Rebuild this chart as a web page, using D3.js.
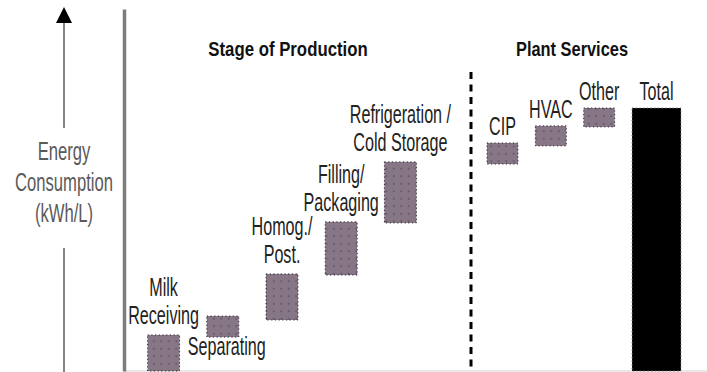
<!DOCTYPE html>
<html>
<head>
<meta charset="utf-8">
<script src="https://cdn.jsdelivr.net/npm/d3@7"></script>
<style>
  body { margin: 0; background: #fff; }
  text { font-family: "Liberation Sans", Arial, sans-serif; }
</style>
</head>
<body>
<div id="chart"></div>
<script>
// waterfall steps, relative energy units (total = 100)
const stages = ["Milk Receiving", "Separating", "Homog./Post.", "Filling/Packaging", "Refrigeration/Cold Storage"];
const stageLabels = [["Milk", "Receiving"], ["Separating"], ["Homog./", "Post."], ["Filling/", "Packaging"], ["Refrigeration /", "Cold Storage"]];
const stageLow = [0, 12.9, 19.4, 36.5, 56.3];
const stageHigh = [13.7, 20.9, 36.9, 56.7, 79.5];

const services = ["CIP", "HVAC", "Other", "Total"];
const serviceLabels = [["CIP"], ["HVAC"], ["Other"], ["Total"]];
const serviceLow = [78.7, 85.6, 92.8, 0];
const serviceHigh = [86.7, 93.2, 100, 100];

const groupTitles = ["Stage of Production", "Plant Services"];
const axisLabel = ["Energy", "Consumption", "(kWh/L)"];

const width = 707, height = 372;

const svg = d3.select("#chart")
  .append("svg")
    .attr("width", width)
    .attr("height", height);

const defs = svg.append("defs");
const pat = defs.append("pattern")
    .attr("id", "dots")
    .attr("width", 7.5)
    .attr("height", 7.5)
    .attr("patternUnits", "userSpaceOnUse");
pat.append("rect").attr("width", 7.5).attr("height", 7.5).attr("fill", "#867686");
pat.append("circle").attr("cx", 3.75).attr("cy", 3.75).attr("r", 0.9).attr("fill", "#5e505e");

// scales
const y = d3.scaleLinear()
  .domain([0, 100])
  .range([371, 108]);

const xStage = d3.scaleBand()
  .domain(stages)
  .range([134, 430])
  .paddingInner(0.46)
  .paddingOuter(0.23);

const xServ = d3.scaleBand()
  .domain(services)
  .range([472.5, 677.5])
  .paddingInner(0.36)
  .paddingOuter(0.3);

// condensed multi-line text helper
function label(lines, cx, baseline, opts) {
  const o = Object.assign({size: 26, sx: 0.62, lh: 28, fill: "#222", weight: "normal", anchor: "last"}, opts);
  const first = o.anchor === "last" ? baseline - (lines.length - 1) * o.lh : baseline;
  const g = svg.append("g")
      .attr("transform", `translate(${cx},${first}) scale(${o.sx},1)`);
  const t = g.append("text")
      .attr("text-anchor", "middle")
      .attr("font-size", o.size)
      .attr("font-weight", o.weight)
      .attr("fill", o.fill);
  lines.forEach((s, i) => {
    t.append("tspan").attr("x", 0).attr("dy", i === 0 ? 0 : o.lh).text(s);
  });
}

// baseline
svg.append("line")
  .attr("x1", 124).attr("x2", width)
  .attr("y1", y(0)).attr("y2", y(0))
  .attr("stroke", "#d4d4d4")
  .attr("stroke-width", 1);

// y axis line (no ticks)
const yAxisScale = y.copy().domain([0, y.invert(9)]).range([y(0), 9]);
const yAxis = svg.append("g")
  .attr("transform", "translate(124,0)")
  .call(d3.axisLeft(yAxisScale).ticks(0).tickSizeOuter(0));
yAxis.select(".domain")
  .attr("stroke", "#7d7d7d")
  .attr("stroke-width", 3.5);

// arrow and axis title
const ax = 64;
svg.append("line").attr("x1", ax).attr("x2", ax).attr("y1", 22).attr("y2", 128)
  .attr("stroke", "#666").attr("stroke-width", 1.6);
svg.append("line").attr("x1", ax).attr("x2", ax).attr("y1", 248).attr("y2", height)
  .attr("stroke", "#666").attr("stroke-width", 1.6);
svg.append("path")
  .attr("d", `M${ax},7 L${ax + 8},23 L${ax - 8},23 Z`)
  .attr("fill", "#000");
label(axisLabel, ax, 160, {anchor: "first", lh: 31, fill: "#5a5a5a", sx: 0.64});

// divider between the two groups
const divX = xServ.range()[0] - 1.5;
svg.append("line")
  .attr("x1", divX).attr("x2", divX)
  .attr("y1", 72).attr("y2", y(0))
  .attr("stroke", "#000")
  .attr("stroke-width", 3)
  .attr("stroke-dasharray", "7,5.5");

// group titles
label([groupTitles[0]], 288, 56, {size: 20, sx: 0.84, weight: "bold", fill: "#111"});
label([groupTitles[1]], 572, 56, {size: 20, sx: 0.82, weight: "bold", fill: "#111"});

// stage bars
svg.append("g").selectAll("rect")
  .data(stages)
  .join("rect")
    .attr("x", d => xStage(d))
    .attr("y", (d, i) => y(stageHigh[i]))
    .attr("width", xStage.bandwidth())
    .attr("height", (d, i) => y(stageLow[i]) - y(stageHigh[i]))
    .attr("fill", "url(#dots)")
    .attr("stroke", "#2e262e")
    .attr("stroke-width", 1)
    .attr("stroke-dasharray", "1.2,2.5");

stages.forEach((d, i) => {
  const cx = xStage(d) + xStage.bandwidth() / 2;
  if (d === "Separating") {
    label(stageLabels[i], cx + 4, y(stageLow[i]) + 18, {});
  } else {
    label(stageLabels[i], cx, y(stageHigh[i]) - 11, {});
  }
});

// plant services bars (Total drawn wider and solid)
const totalW = xServ.bandwidth() * 1.58;
svg.append("g").selectAll("rect")
  .data(services)
  .join("rect")
    .attr("x", d => xServ(d))
    .attr("y", (d, i) => y(serviceHigh[i]))
    .attr("width", d => d === "Total" ? totalW : xServ.bandwidth())
    .attr("height", (d, i) => y(serviceLow[i]) - y(serviceHigh[i]))
    .attr("fill", d => d === "Total" ? "#000" : "url(#dots)")
    .attr("stroke", d => d === "Total" ? "#777" : "#2e262e")
    .attr("stroke-width", 1)
    .attr("stroke-dasharray", "1.2,2.5");

services.forEach((d, i) => {
  const w = d === "Total" ? totalW : xServ.bandwidth();
  label(serviceLabels[i], xServ(d) + w / 2, y(serviceHigh[i]) - 8, {});
});
</script>
</body>
</html>
